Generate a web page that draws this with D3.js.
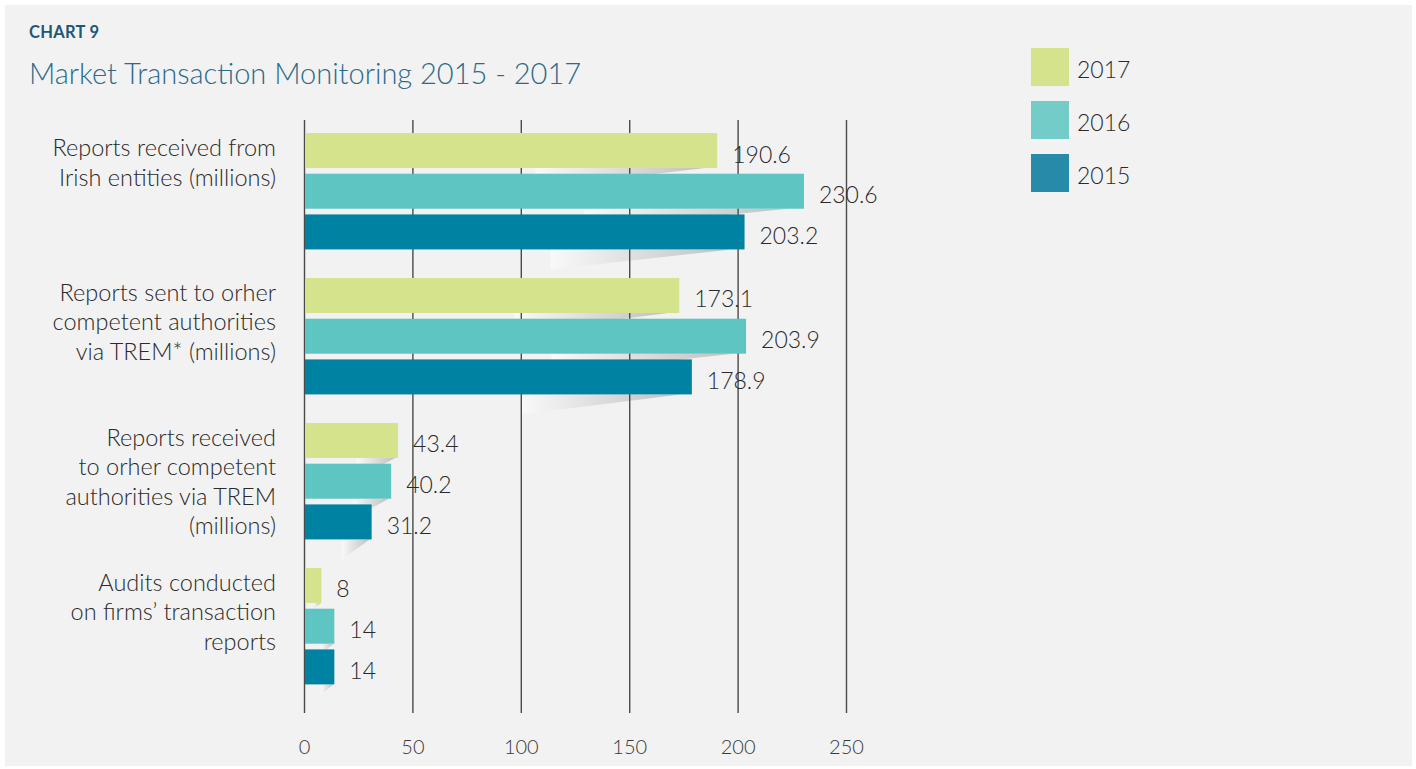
<!DOCTYPE html>
<html>
<head>
<meta charset="utf-8">
<script src="https://cdn.jsdelivr.net/npm/d3@7"></script>
<style>
  body { margin: 0; background: #fff; }
  text { font-family: Lato, "Open Sans", sans-serif; }
</style>
</head>
<body>
<div id="chart"></div>
<script>
// data
var categories = [
  ["Reports received from", "Irish entities (millions)"],
  ["Reports sent to orher", "competent authorities", "via TREM* (millions)"],
  ["Reports received", "to orher competent", "authorities via TREM", "(millions)"],
  ["Audits conducted", "on firms\u2019 transaction", "reports"]
];
var years = ["2017", "2016", "2015"];
var values2017 = [190.6, 173.1, 43.4, 8];
var values2016 = [230.6, 203.9, 40.2, 14];
var values2015 = [203.2, 178.9, 31.2, 14];
var xTicks = [0, 50, 100, 150, 200, 250];

var series = { "2017": values2017, "2016": values2016, "2015": values2015 };
var barColors = { "2017": "#d4e38c", "2016": "#5ec5c2", "2015": "#0083a3" };
var legendColors = { "2017": "#d4e38c", "2016": "#74ccc8", "2015": "#268aa8" };

var W = 1416, H = 769;

var svg = d3.select("#chart")
  .append("svg")
    .attr("width", W)
    .attr("height", H);

// panel background
svg.append("rect")
  .attr("x", 5).attr("y", 5)
  .attr("width", 1407).attr("height", 761)
  .attr("fill", "#f2f2f2");

// titles
svg.append("text")
  .attr("x", 29).attr("y", 38)
  .style("font-size", "16.5px").style("font-weight", 700)
  .style("letter-spacing", "0.3px")
  .attr("fill", "#1d5878")
  .text("CHART 9");
svg.append("text")
  .attr("x", 29).attr("y", 84)
  .style("font-size", "29px").style("font-weight", 300)
  .attr("fill", "#2b6a8a")
  .text("Market Transaction Monitoring 2015 - 2017");

// scales
var x = d3.scaleLinear().domain([0, 250]).range([304, 846]);
var catIdx = d3.range(categories.length);
var y0 = d3.scaleBand()
  .domain(catIdx)
  .range([133, 684.4])
  .paddingInner(0.197)
  .paddingOuter(0);
var y1 = d3.scaleBand()
  .domain(years)
  .range([0, y0.bandwidth()])
  .paddingInner(0.14);

// shadow gradient
var defs = svg.append("defs");
var grad = defs.append("linearGradient")
  .attr("id", "shade")
  .attr("x1", "0").attr("x2", "1").attr("y1", "0").attr("y2", "0");
grad.append("stop").attr("offset", "0").attr("stop-color", "#f9f9f9");
grad.append("stop").attr("offset", "1").attr("stop-color", "#c0c0c0");

// flat rows of bars
var rows = [];
catIdx.forEach(function(i) {
  years.forEach(function(yr) {
    rows.push({ cat: i, year: yr, value: series[yr][i] });
  });
});

// shadows under bar ends
svg.append("g").selectAll("polygon")
  .data(rows)
  .enter()
  .append("polygon")
    .attr("points", function(d) {
      var top = y0(d.cat) + y1(d.year) + y1.bandwidth();
      var xl = x(d.value * 0.56), xr = x(d.value * 0.97);
      var h = Math.min(20, (x(d.value) - x(0)) * 0.33);
      return [[xl, top], [xr, top], [xl, top + h]].map(function(p) { return p.join(","); }).join(" ");
    })
    .attr("fill", "url(#shade)");

// gridlines + x axis
var axis = svg.append("g")
  .attr("transform", "translate(0,713)")
  .call(d3.axisBottom(x).tickValues(xTicks).tickSize(-(713 - 120)).tickPadding(27));
axis.select(".domain").remove();
axis.selectAll("line").attr("stroke", "#4a4a4a").attr("stroke-width", 1.4);
axis.selectAll("text")
  .style("font-size", "20px").style("font-weight", 300)
  .style("font-family", "Lato, sans-serif")
  .attr("fill", "#3a3a3a");

// bars
svg.append("g").selectAll("rect")
  .data(rows)
  .enter()
  .append("rect")
    .attr("x", x(0) + 1)
    .attr("y", function(d) { return y0(d.cat) + y1(d.year); })
    .attr("width", function(d) { return x(d.value) - x(0) - 1; })
    .attr("height", y1.bandwidth())
    .attr("fill", function(d) { return barColors[d.year]; });

// value labels
svg.append("g").selectAll("text")
  .data(rows)
  .enter()
  .append("text")
    .attr("x", function(d) { return x(d.value) + 15; })
    .attr("y", function(d) { return y0(d.cat) + y1(d.year) + y1.bandwidth() / 2 + 3; })
    .attr("dominant-baseline", "central")
    .style("font-size", "23px").style("font-weight", 300)
    .attr("fill", "#2a2a2a")
    .text(function(d) { return d.value; });

// category labels
var catLabels = svg.append("g").selectAll("text")
  .data(catIdx)
  .enter()
  .append("text")
    .attr("text-anchor", "end")
    .style("font-size", "23.5px").style("font-weight", 300)
    .attr("fill", "#2a2a2a");
catLabels.selectAll("tspan")
  .data(function(i) { return categories[i].map(function(t, k) { return { t: t, k: k, i: i }; }); })
  .enter()
  .append("tspan")
    .attr("x", 276)
    .attr("y", function(d) { return y0(d.i) + 23 + d.k * 29.5; })
    .text(function(d) { return d.t; });

// legend
var legend = svg.append("g").selectAll("g")
  .data(years)
  .enter()
  .append("g")
    .attr("transform", function(d, i) { return "translate(1031," + (48 + i * 53) + ")"; });
legend.append("rect")
  .attr("width", 38).attr("height", 38)
  .attr("fill", function(d) { return legendColors[d]; });
legend.append("text")
  .attr("x", 46).attr("y", 21)
  .attr("dominant-baseline", "central")
  .style("font-size", "23px").style("font-weight", 300)
  .attr("fill", "#2a2a2a")
  .text(function(d) { return d; });
</script>
</body>
</html>
